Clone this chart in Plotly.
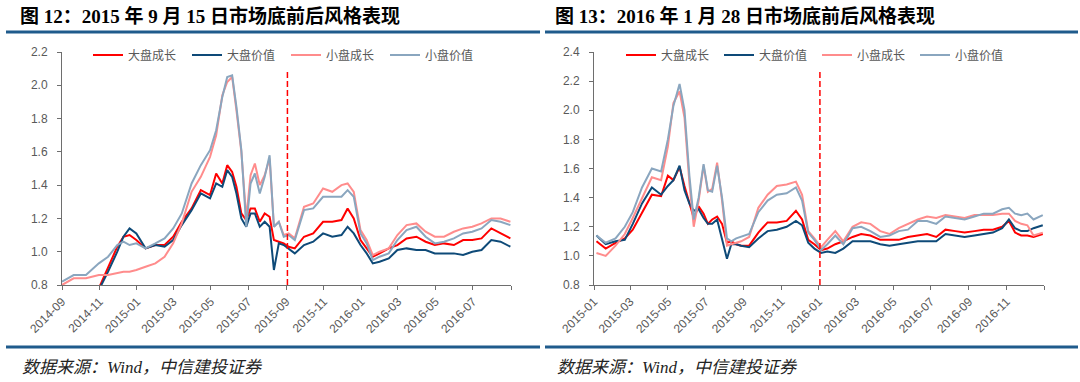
import plotly.graph_objects as go

# ---------------- Left chart (图 12) ----------------
dates_l = ["2014-09-01", "2014-09-20", "2014-10-10", "2014-10-31", "2014-11-15", "2014-11-30",
           "2014-12-10", "2014-12-20", "2014-12-31", "2015-01-15", "2015-01-31", "2015-02-15",
           "2015-03-01", "2015-03-15", "2015-03-31", "2015-04-15", "2015-04-30", "2015-05-10",
           "2015-05-20", "2015-05-28", "2015-06-05", "2015-06-12", "2015-06-20", "2015-06-28",
           "2015-07-05", "2015-07-12", "2015-07-20", "2015-07-28", "2015-08-05", "2015-08-12",
           "2015-08-20", "2015-08-28", "2015-09-05", "2015-09-15", "2015-09-30", "2015-10-15",
           "2015-10-31", "2015-11-15", "2015-11-30", "2015-12-10", "2015-12-20", "2015-12-31",
           "2016-01-10", "2016-01-20", "2016-01-31", "2016-02-15", "2016-02-29", "2016-03-15",
           "2016-03-31", "2016-04-15", "2016-04-30", "2016-05-15", "2016-05-31", "2016-06-15",
           "2016-06-30", "2016-07-15", "2016-07-31", "2016-08-15", "2016-08-31"]
lg_l = [0.74, 0.75, 0.76, 0.78, 0.90, 1.03, 1.09, 1.10, 1.07, 1.02, 1.04, 1.04,
        1.09, 1.18, 1.26, 1.37, 1.34, 1.47, 1.41, 1.52, 1.48, 1.39, 1.23, 1.19,
        1.26, 1.26, 1.18, 1.23, 1.21, 1.07, 1.06, 1.05, 1.03, 1.02, 1.09, 1.11,
        1.18, 1.18, 1.19, 1.26, 1.20, 1.07, 1.02, 0.97, 0.99, 1.02, 1.04, 1.08,
        1.09, 1.06, 1.04, 1.05, 1.04, 1.07, 1.07, 1.08, 1.14, 1.11, 1.08]
lv_l = [0.73, 0.74, 0.75, 0.77, 0.88, 1.00, 1.09, 1.14, 1.11, 1.02, 1.04, 1.03,
        1.07, 1.16, 1.25, 1.35, 1.32, 1.41, 1.39, 1.49, 1.45, 1.35, 1.20, 1.15,
        1.23, 1.23, 1.15, 1.18, 1.15, 0.89, 1.05, 1.04, 1.02, 0.99, 1.04, 1.06,
        1.11, 1.09, 1.10, 1.15, 1.11, 1.04, 0.99, 0.93, 0.94, 0.96, 1.01, 1.02,
        1.01, 1.01, 0.99, 0.99, 0.99, 0.98, 1.00, 1.01, 1.07, 1.06, 1.03]
sg_l = [0.80, 0.84, 0.84, 0.86, 0.86, 0.87, 0.88, 0.88, 0.89, 0.91, 0.93, 0.97,
        1.05, 1.17, 1.36, 1.45, 1.57, 1.70, 1.94, 2.02, 2.05, 1.85, 1.60, 1.20,
        1.46, 1.53, 1.40, 1.46, 1.56, 1.15, 1.18, 1.10, 1.11, 1.08, 1.27, 1.29,
        1.38, 1.36, 1.40, 1.41, 1.36, 1.13, 1.07, 0.98, 1.00, 1.02, 1.10, 1.16,
        1.17, 1.12, 1.09, 1.09, 1.12, 1.14, 1.15, 1.17, 1.20, 1.20, 1.18]
sv_l = [0.82, 0.86, 0.86, 0.93, 0.97, 1.04, 1.06, 1.04, 1.05, 1.02, 1.05, 1.08,
        1.14, 1.23, 1.41, 1.52, 1.61, 1.73, 1.93, 2.05, 2.06, 1.87, 1.61, 1.15,
        1.41, 1.47, 1.35, 1.45, 1.58, 1.15, 1.18, 1.09, 1.10, 1.07, 1.25, 1.26,
        1.33, 1.33, 1.33, 1.37, 1.33, 1.11, 1.05, 0.95, 0.97, 0.99, 1.07, 1.13,
        1.15, 1.09, 1.05, 1.06, 1.08, 1.11, 1.12, 1.14, 1.19, 1.18, 1.16]

# ---------------- Right chart (图 13) ----------------
dates_r = ["2015-01-05", "2015-01-20", "2015-02-05", "2015-02-20", "2015-03-05", "2015-03-20",
           "2015-04-05", "2015-04-20", "2015-05-01", "2015-05-10", "2015-05-20", "2015-05-28",
           "2015-06-05", "2015-06-12", "2015-06-20", "2015-06-28", "2015-07-05", "2015-07-12",
           "2015-07-20", "2015-07-28", "2015-08-05", "2015-08-12", "2015-08-20", "2015-08-28",
           "2015-09-10", "2015-09-25", "2015-10-10", "2015-10-25", "2015-11-10", "2015-11-25",
           "2015-12-05", "2015-12-15", "2015-12-25", "2016-01-05", "2016-01-15", "2016-01-28",
           "2016-02-10", "2016-02-25", "2016-03-10", "2016-03-25", "2016-04-10", "2016-04-25",
           "2016-05-10", "2016-05-25", "2016-06-10", "2016-06-25", "2016-07-10", "2016-07-25",
           "2016-08-10", "2016-08-25", "2016-09-10", "2016-09-25", "2016-10-10", "2016-10-25",
           "2016-11-05", "2016-11-15", "2016-11-25", "2016-12-05", "2016-12-15", "2016-12-30"]
lg_r = [1.10, 1.05, 1.09, 1.12, 1.18, 1.30, 1.42, 1.41, 1.55, 1.52, 1.61, 1.48,
        1.36, 1.26, 1.34, 1.29, 1.22, 1.25, 1.27, 1.22, 1.09, 1.10, 1.08, 1.07,
        1.07, 1.16, 1.23, 1.23, 1.24, 1.31, 1.25, 1.11, 1.08, 1.04, 1.05, 1.08,
        1.10, 1.13, 1.15, 1.14, 1.11, 1.11, 1.11, 1.13, 1.14, 1.15, 1.13, 1.18,
        1.17, 1.16, 1.17, 1.18, 1.18, 1.20, 1.24, 1.16, 1.14, 1.14, 1.13, 1.15]
lv_r = [1.14, 1.08, 1.10, 1.11, 1.22, 1.36, 1.47, 1.42, 1.48, 1.52, 1.62, 1.45,
        1.36, 1.31, 1.32, 1.26, 1.22, 1.22, 1.25, 1.12, 0.98, 1.08, 1.08, 1.07,
        1.06, 1.12, 1.17, 1.18, 1.20, 1.24, 1.21, 1.09, 1.05, 1.02, 1.03, 1.02,
        1.05, 1.10, 1.10, 1.10, 1.08, 1.07, 1.08, 1.09, 1.10, 1.10, 1.10, 1.15,
        1.14, 1.13, 1.14, 1.15, 1.16, 1.19, 1.25, 1.19, 1.17, 1.17, 1.19, 1.21]
sg_r = [1.02, 1.00, 1.07, 1.15, 1.26, 1.40, 1.54, 1.52, 1.75, 2.05, 2.13, 1.95,
        1.50, 1.20, 1.38, 1.62, 1.44, 1.46, 1.64, 1.38, 1.07, 1.08, 1.09, 1.10,
        1.13, 1.33, 1.42, 1.48, 1.49, 1.51, 1.42, 1.17, 1.12, 1.06, 1.11, 1.17,
        1.10, 1.20, 1.23, 1.22, 1.17, 1.15, 1.19, 1.22, 1.25, 1.27, 1.26, 1.28,
        1.27, 1.26, 1.28, 1.28, 1.28, 1.29, 1.29, 1.24, 1.22, 1.21, 1.14, 1.16]
sv_r = [1.14, 1.09, 1.12, 1.20, 1.30, 1.47, 1.60, 1.58, 1.80, 2.03, 2.18, 2.00,
        1.55, 1.25, 1.40, 1.63, 1.45, 1.44, 1.62, 1.40, 1.12, 1.10, 1.12, 1.13,
        1.15, 1.30, 1.38, 1.42, 1.43, 1.47, 1.38, 1.16, 1.11, 1.04, 1.08, 1.14,
        1.08, 1.19, 1.20, 1.17, 1.13, 1.14, 1.17, 1.18, 1.24, 1.24, 1.22, 1.27,
        1.26, 1.25, 1.27, 1.29, 1.29, 1.32, 1.33, 1.29, 1.28, 1.29, 1.25, 1.28]

series_names = ["大盘成长", "大盘价值", "小盘成长", "小盘价值"]
series_colors = ["#FF0000", "#0E4A78", "#FF8C8C", "#8AA6BF"]

# x-axis ticks (every two months) and labels
ticks_l = ["2014-09-01", "2014-11-01", "2015-01-01", "2015-03-01", "2015-05-01", "2015-07-01",
           "2015-09-01", "2015-11-01", "2016-01-01", "2016-03-01", "2016-05-01", "2016-07-01",
           "2016-09-01"]
labels_l = ["2014-09", "2014-11", "2015-01", "2015-03", "2015-05", "2015-07",
            "2015-09", "2015-11", "2016-01", "2016-03", "2016-05", "2016-07", ""]
ticks_r = ["2015-01-01", "2015-03-01", "2015-05-01", "2015-07-01", "2015-09-01", "2015-11-01",
           "2016-01-01", "2016-03-01", "2016-05-01", "2016-07-01", "2016-09-01", "2016-11-01",
           "2017-01-01"]
labels_r = ["2015-01", "2015-03", "2015-05", "2015-07", "2015-09", "2015-11",
            "2016-01", "2016-03", "2016-05", "2016-07", "2016-09", "2016-11", ""]

# market-bottom marker lines (date, top value)
marker_l = ("2015-09-03", 2.09)
marker_r = ("2016-01-03", 2.28)

titles = ["图 12：2015 年 9 月 15 日市场底前后风格表现", "图 13：2016 年 1 月 28 日市场底前后风格表现"]
source = "数据来源：Wind，中信建投证券"

W, H = 1080, 382
fig = go.Figure()

left_sets = [lg_l, lv_l, sg_l, sv_l]
right_sets = [lg_r, lv_r, sg_r, sv_r]
for name, col, ys in zip(series_names, series_colors, left_sets):
    fig.add_trace(go.Scatter(x=dates_l, y=ys, name=name, mode="lines",
                             line=dict(color=col, width=2), xaxis="x", yaxis="y",
                             legend="legend"))
for name, col, ys in zip(series_names, series_colors, right_sets):
    fig.add_trace(go.Scatter(x=dates_r, y=ys, name=name, mode="lines",
                             line=dict(color=col, width=2), xaxis="x2", yaxis="y2",
                             legend="legend2"))

tick_font = dict(family="Liberation Sans, Arial, sans-serif", size=12, color="#595959")
axis_common = dict(showgrid=False, zeroline=False, showline=True, linecolor="#6E6E6E",
                   linewidth=1, ticks="outside", ticklen=4, tickcolor="#6E6E6E",
                   tickfont=tick_font, automargin=False)

yd = [1 - 285 / H, 1 - 52 / H]
fig.update_layout(
    template="none",
    width=W, height=H, margin=dict(l=0, r=0, t=0, b=0, autoexpand=False),
    paper_bgcolor="white", plot_bgcolor="white",
    xaxis=dict(domain=[62 / W, 511 / W], type="date", range=[ticks_l[0], ticks_l[-1]],
               tickmode="array", tickvals=ticks_l, ticktext=labels_l, tickangle=-45,
               anchor="y", **axis_common),
    yaxis=dict(domain=yd, range=[0.8, 2.2], dtick=0.2, tickformat=".1f", anchor="x",
               ticklabelstandoff=7, **axis_common),
    xaxis2=dict(domain=[594 / W, 1044 / W], type="date", range=[ticks_r[0], ticks_r[-1]],
                tickmode="array", tickvals=ticks_r, ticktext=labels_r, tickangle=-45,
                anchor="y2", **axis_common),
    yaxis2=dict(domain=yd, range=[0.8, 2.4], dtick=0.2, tickformat=".1f", anchor="x2",
                ticklabelstandoff=7, **axis_common),
    legend=dict(orientation="h", x=88 / W, xanchor="left", y=1 - 55 / H, yanchor="middle",
                font=dict(family="Noto Sans CJK SC", size=12, color="#595959"),
                bgcolor="rgba(0,0,0,0)", entrywidth=54, itemwidth=30),
    legend2=dict(orientation="h", x=621 / W, xanchor="left", y=1 - 55 / H, yanchor="middle",
                 font=dict(family="Noto Sans CJK SC", size=12, color="#595959"),
                 bgcolor="rgba(0,0,0,0)", entrywidth=53, itemwidth=30),
    showlegend=True,
)

shapes = []
# market bottom dashed lines
shapes.append(dict(type="line", xref="x", yref="y", x0=marker_l[0], x1=marker_l[0],
                   y0=0.8, y1=marker_l[1], line=dict(color="#FF0000", width=1.5, dash="6px,3px")))
shapes.append(dict(type="line", xref="x2", yref="y2", x0=marker_r[0], x1=marker_r[0],
                   y0=0.8, y1=marker_r[1], line=dict(color="#FF0000", width=1.5, dash="6px,3px")))
# header / footer rules
rule_col = "#1F5B8C"
for (xa, xb) in [(6, 540), (545, 1078)]:
    shapes.append(dict(type="line", xref="paper", yref="paper", x0=xa / W, x1=xb / W,
                       y0=1 - 32 / H, y1=1 - 32 / H, line=dict(color=rule_col, width=3)))
    shapes.append(dict(type="line", xref="paper", yref="paper", x0=xa / W, x1=xb / W,
                       y0=1 - 347 / H, y1=1 - 347 / H, line=dict(color=rule_col, width=3)))
fig.update_layout(shapes=shapes)

title_font = dict(family="Liberation Serif, Noto Sans CJK SC", size=19, color="#000000")
src_font = dict(family="Liberation Serif, Noto Sans CJK SC", size=17, color="#222222")
for xp, t in zip([18, 553], titles):
    fig.add_annotation(x=xp / W, y=1 - 16 / H, xref="paper", yref="paper", text="<b>" + t + "</b>",
                       showarrow=False, xanchor="left", yanchor="middle", font=title_font)
for xp in [20, 555]:
    fig.add_annotation(x=xp / W, y=1 - 367 / H, xref="paper", yref="paper", text="<i>" + source + "</i>",
                       showarrow=False, xanchor="left", yanchor="middle", font=src_font)

fig.write_html("out.html", config={"displayModeBar": False},
               post_script="document.body.style.margin='0';document.body.style.padding='0';")
